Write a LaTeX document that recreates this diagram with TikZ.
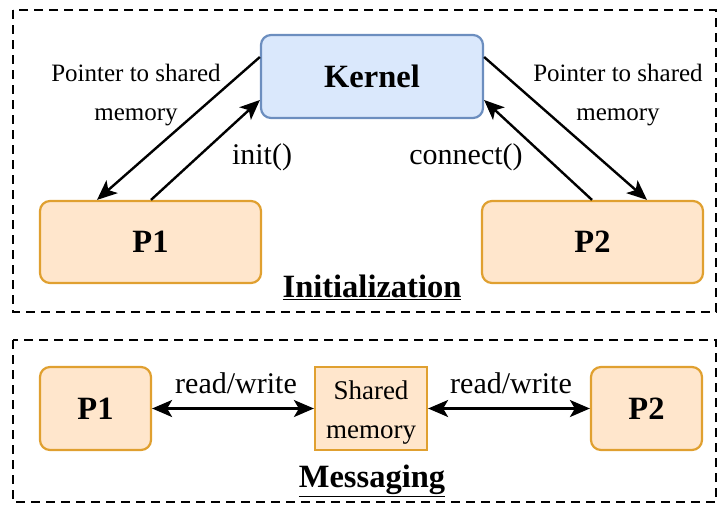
\documentclass[tikz,border=0pt]{standalone}
\usepackage{fontspec}
\setmainfont{Liberation Serif}
\usetikzlibrary{arrows.meta}
\definecolor{kfill}{HTML}{DAE8FC}
\definecolor{kdraw}{HTML}{6C8EBF}
\definecolor{pfill}{HTML}{FFE6CC}
\definecolor{pdraw}{HTML}{E0A030}
\begin{document}
\begin{tikzpicture}[x=1pt,y=-1pt,
  frame/.style={draw=black,line width=2.2pt,dash pattern=on 9pt off 6pt},
  kbox/.style={draw=kdraw,fill=kfill,line width=2.2pt,rounded corners=10pt},
  pbox/.style={draw=pdraw,fill=pfill,line width=2.2pt,rounded corners=10pt},
  sbox/.style={draw=pdraw,fill=pfill,line width=2.2pt},
  big/.style={font=\fontsize{32.5}{36}\selectfont\bfseries},
  lbl/.style={font=\fontsize{25}{39}\selectfont,align=center},
  fn/.style={font=\fontsize{30}{34}\selectfont},
  arr/.style={line width=2.4pt,-{Stealth[length=20pt,width=17pt,inset=5pt]}},
  darr/.style={line width=2.4pt,{Stealth[length=20pt,width=17pt,inset=5pt]}-{Stealth[length=20pt,width=17pt,inset=5pt]}}]
\useasboundingbox (0,0) rectangle (720,506);
% frames
\draw[frame] (13,10) rectangle (716,312);
\draw[frame] (13,340) rectangle (716,502);
% Initialization
\node[kbox,minimum width=222pt,minimum height=83pt,big] (k) at (372,76.5) {Kernel};
\node[pbox,minimum width=221pt,minimum height=82pt,big] (p1) at (150.5,242) {P1};
\node[pbox,minimum width=221pt,minimum height=82pt,big] (p2) at (592.5,242) {P2};
\draw[arr] ([yshift=19.5pt]k.west) -- ([xshift=-53.5pt]p1.north);
\draw[arr] ([xshift=0.5pt]p1.north) -- ([yshift=-23.5pt]k.west);
\draw[arr] ([yshift=19.5pt]k.east) -- ([xshift=54.5pt]p2.north);
\draw[arr] ([xshift=-0.5pt]p2.north) -- ([yshift=-23.5pt]k.east);
\node[lbl] (l1) at (136,95) {Pointer to shared\\memory};
\node[lbl] (l2) at (618,95) {Pointer to shared\\memory};
\node[fn] (i1) at (262,157) {init()};
\node[fn] (c1) at (466,157) {connect()};
\node[big] (t1) at (372,287) {\underline{Initialization}};
% Messaging
\node[pbox,minimum width=111pt,minimum height=83pt,big] (q1) at (95.5,408.5) {P1};
\node[sbox,minimum width=112pt,minimum height=83pt,inner sep=0pt] (sm) at (371,408.5) {};
\node[font=\fontsize{27}{39}\selectfont,align=center,inner sep=0pt] (smt) at (371,413) {Shared\\memory};
\node[pbox,minimum width=111pt,minimum height=83pt,big] (q2) at (646.5,408.5) {P2};
\draw[darr] (q1.east) -- (sm.west);
\draw[darr] (sm.east) -- (q2.west);
\node[fn] (r1) at (236,383) {read/write};
\node[fn] (r2) at (511,383) {read/write};
\node[big] (t2) at (372,481) {\underline{Messaging}};
\end{tikzpicture}
\end{document}
